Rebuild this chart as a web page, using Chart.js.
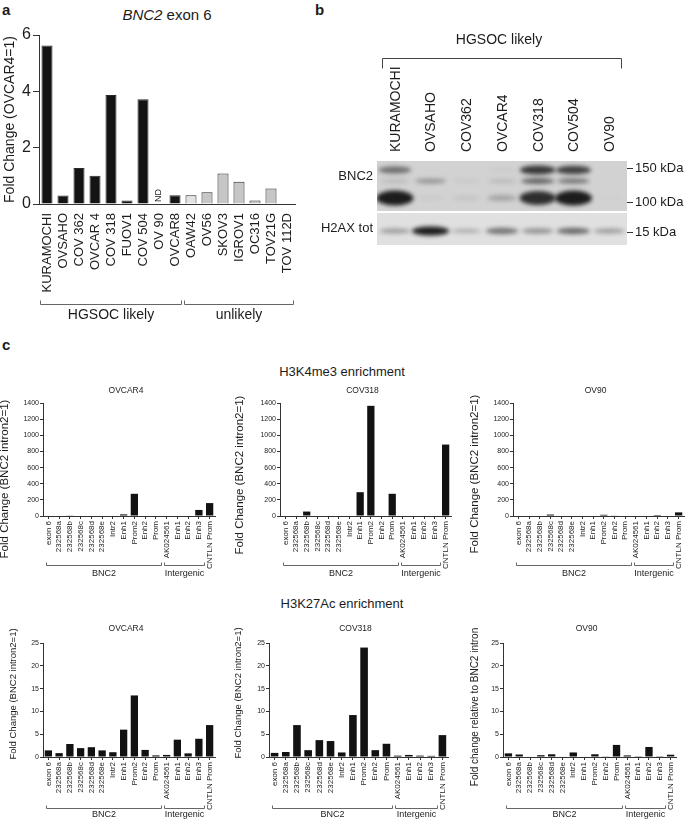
<!DOCTYPE html>
<html><head><meta charset="utf-8">
<script src="https://cdn.jsdelivr.net/npm/chart.js@4.4.1/dist/chart.umd.min.js"></script>
<style>
html,body{margin:0;padding:0;background:#fff}
body{width:685px;height:820px;position:relative;overflow:hidden;font-family:'Liberation Sans',Arial,Helvetica,sans-serif;color:#1c1c1c}
canvas{position:absolute}
.t{position:absolute;white-space:nowrap;line-height:1}
.ctr{transform:translateX(-50%)}
</style></head><body>
<div class="t" style="left:2px;top:2px;font-size:15px;font-weight:bold">a</div>
<div class="t" style="left:315px;top:2px;font-size:15px;font-weight:bold">b</div>
<div class="t" style="left:2px;top:337px;font-size:15px;font-weight:bold">c</div>
<div class="t ctr" style="left:167px;top:7px;font-size:15px"><i>BNC2</i> exon 6</div>
<div class="t ctr" style="left:342px;top:365px;font-size:13px">H3K4me3 enrichment</div>
<div class="t ctr" style="left:342px;top:597px;font-size:13px">H3K27Ac enrichment</div>
<script>
// ---------------- DATA ----------------
// Panel a: BNC2 exon 6 expression (fold change, OVCAR4 = 1)
const cellLines = ['KURAMOCHI','OVSAHO','COV 362','OVCAR 4','COV 318','FUOV1','COV 504','OV 90','OVCAR8',
                   'OAW42','OV56','SKOV3','IGROV1','OC316','TOV21G','TOV 112D'];
const foldChangeExon6 = [5.63,0.3,1.28,1.0,3.87,0.12,3.72,0,0.31,0.31,0.42,1.08,0.79,0.12,0.55,0];
const cellLineGroup = ['HGSOC likely','HGSOC likely','HGSOC likely','HGSOC likely','HGSOC likely',
                       'HGSOC likely','HGSOC likely','HGSOC likely','HGSOC likely',
                       'unlikely','unlikely','unlikely','unlikely','unlikely','unlikely','unlikely'];
const notDetected = ['OV 90'];
const exon6Ticks = [0,2,4,6];

// Panel b: western blot (band intensity 0..1 per lane)
const blotLanes = ['KURAMOCHI','OVSAHO','COV362','OVCAR4','COV318','COV504','OV90'];
const blotGroupLabel = 'HGSOC likely';
const blotProteins = ['BNC2','H2AX tot'];
const bnc2Band150 = [0.55,0,0,0.04,0.85,0.8,0];
const bnc2Band125 = [0.15,0.35,0.05,0.15,0.6,0.5,0];
const bnc2Band105 = [1.0,0.05,0.08,0.25,0.9,1.0,0.02];
const h2axBand    = [0.35,1.0,0.25,0.55,0.4,0.6,0.35];
const bandMigration = [9,20,37,70];
const markerLabels = ['150 kDa','100 kDa','15 kDa'];
const markerMigration = [7,41,71];

// Panel c: ChIP enrichment
const regions = ['exon 6','232568a','232568b','232568c','232568d','232568e','Intr2','Enh1','Prom2','Enh2','Prom',
                 'AK024561','Enh1','Enh2','Enh3','CNTLN Prom'];
const regionGroups = ['BNC2','Intergenic'];
const regionGroupFirst = [0,11];
const regionGroupLast = [10,14];
const h3k4me3Ticks = [0,200,400,600,800,1000,1200,1400];
const h3k27acTicks = [0,5,10,15,20,25];
const h3k4me3_OVCAR4 = [0,0,8,0,0,0,0,20,275,0,0,0,6,0,75,160];
const h3k4me3_COV318 = [0,0,55,0,0,0,0,295,1365,0,275,0,0,0,0,885];
const h3k4me3_OV90   = [6,0,0,18,0,0,0,0,15,5,0,0,0,12,0,45];
const h3k27ac_OVCAR4 = [1.45,0.85,2.85,1.95,2.15,1.45,1.05,6.0,13.5,1.55,0.35,0.45,3.8,0.8,4.0,7.0];
const h3k27ac_COV318 = [0.9,1.1,7.0,1.5,3.7,3.5,1.0,9.2,24.0,1.5,2.9,0.3,0.45,0.3,0.25,4.8];
const h3k27ac_OV90   = [0.8,0.55,0.1,0.4,0.6,0.1,1.0,0.1,0.6,0.15,2.65,0.35,0.05,2.2,0.05,0.5];

// ---------------- SETUP ----------------
const FONT = "'Liberation Sans', Arial, Helvetica, sans-serif";
const INK = '#1c1c1c', AXIS = '#333';
Chart.defaults.font.family = FONT;
Chart.defaults.color = INK;
Chart.defaults.animation = false;
Chart.defaults.responsive = false;
Chart.defaults.maintainAspectRatio = false;
Chart.defaults.devicePixelRatio = 1;
Chart.defaults.plugins.legend.display = false;
Chart.defaults.plugins.tooltip.enabled = false;

function makeCanvas(left, top, w, h) {
  const c = document.createElement('canvas');
  c.width = w; c.height = h;
  c.style.left = left + 'px'; c.style.top = top + 'px';
  c.style.width = w + 'px'; c.style.height = h + 'px';
  document.body.appendChild(c);
  return c;
}

function spansFrom(groups) {
  const names = [], first = [], last = [];
  groups.forEach((g, i) => {
    const k = names.indexOf(g);
    if (k < 0) { names.push(g); first.push(i); last.push(i); } else last[k] = i;
  });
  return {names, first, last};
}

// brackets under the category axis
function bracketPlugin(names, first, last, cfg) {
  return {
    id: 'brackets',
    afterDraw(chart) {
      const ctx = chart.ctx, xs = chart.scales.x, base = chart.chartArea.bottom;
      const w = xs.getPixelForValue(1) - xs.getPixelForValue(0);
      ctx.save();
      ctx.strokeStyle = cfg.color || '#555'; ctx.lineWidth = 1;
      ctx.fillStyle = INK; ctx.font = cfg.size + 'px ' + FONT;
      ctx.textAlign = 'center'; ctx.textBaseline = 'middle';
      names.forEach((n, i) => {
        const x0 = Math.round(xs.getPixelForValue(first[i]) - w / 2 + cfg.inL) + 0.5;
        const x1 = Math.round(xs.getPixelForValue(last[i]) + w / 2 - cfg.inR) + 0.5;
        const y = Math.round(base + cfg.line) + 0.5;
        ctx.beginPath();
        ctx.moveTo(x0, y - cfg.tick); ctx.lineTo(x0, y); ctx.lineTo(x1, y); ctx.lineTo(x1, y - cfg.tick);
        ctx.stroke();
        ctx.fillText(n, (x0 + x1) / 2, y + cfg.text);
      });
      ctx.restore();
    }
  };
}

// ---------------- PANEL a ----------------
(function () {
  const cv = makeCanvas(0, 22, 299, 305);
  const sp = spansFrom(cellLineGroup);
  const lighter = ['OAW42'];
  const fills = cellLines.map((c, i) => cellLineGroup[i] === 'HGSOC likely' ? '#141414' : (lighter.includes(c) ? '#e2e2e2' : '#c6c6c6'));
  const ndPlugin = {
    id: 'nd',
    afterDatasetsDraw(chart) {
      const ctx = chart.ctx, xs = chart.scales.x, ys = chart.scales.y;
      ctx.save();
      ctx.font = '9px ' + FONT; ctx.fillStyle = INK; ctx.textBaseline = 'middle'; ctx.textAlign = 'left';
      notDetected.forEach(n => {
        const i = cellLines.indexOf(n);
        ctx.save();
        ctx.translate(xs.getPixelForValue(i), ys.getPixelForValue(0) - 2);
        ctx.rotate(-Math.PI / 2);
        ctx.fillText('ND', 0, 0);
        ctx.restore();
      });
      ctx.restore();
    }
  };
  new Chart(cv, {
    type: 'bar',
    data: { labels: cellLines, datasets: [{ data: foldChangeExon6, backgroundColor: fills, borderColor: '#2a2a2a', borderWidth: 1, barPercentage: 0.69, categoryPercentage: 1 }] },
    options: {
      layout: { padding: { top: 13, right: 4, left: 0, bottom: 0 } },
      scales: {
        x: {
          grid: { display: false, drawTicks: false }, border: { display: true, color: AXIS, width: 1 },
          ticks: { font: { size: 13 }, padding: 9, minRotation: 90, maxRotation: 90, autoSkip: false, color: INK },
          afterFit(s) { s.height = 123; s.paddingLeft = 0; s.paddingRight = 0; }
        },
        y: {
          min: 0, max: 6,
          afterBuildTicks(s) { s.ticks = exon6Ticks.map(v => ({ value: v })); },
          ticks: { font: { size: 16 }, padding: 2, color: INK, callback: v => String(v) },
          grid: { drawOnChartArea: false, tickLength: 6, color: AXIS },
          border: { color: AXIS, width: 1 },
          title: { display: true, text: 'Fold Change (OVCAR4=1)', font: { size: 14 }, padding: { top: 2, bottom: 0 }, color: INK },
          afterFit(s) { s.width = 39; s.paddingTop = 0; s.paddingBottom = 0; }
        }
      }
    },
    plugins: [ndPlugin, bracketPlugin(sp.names, sp.first, sp.last, { size: 14, line: 100, tick: 4, text: 11, inL: 0.5, inR: 2.5, color: '#666' })]
  });
})();

// ---------------- PANEL b (blot) ----------------
(function () {
  const cv = makeCanvas(308, 25, 377, 225);
  const bandIntensity = [bnc2Band150, bnc2Band125, bnc2Band105, h2axBand];
  const bandThick = [3.5, 2.5, 6, 3];
  const blotPlugin = {
    id: 'blot',
    beforeDatasetsDraw(chart) {
      const { ctx, chartArea: ca, scales } = chart;
      const x = scales.x, yr = scales.yr;
      const yp = v => yr.getPixelForValue(v);
      const panels = [[0, 50, '#d2d2d2'], [52, 84, '#e0e0e0']];
      ctx.save();
      panels.forEach(p => { ctx.fillStyle = p[2]; ctx.fillRect(ca.left, yp(p[0]), ca.width, yp(p[1]) - yp(p[0])); });
      const laneW = x.getPixelForValue(1) - x.getPixelForValue(0);
      bandIntensity.forEach((arr, r) => {
        const p = r < 3 ? panels[0] : panels[1];
        const yc = yp(bandMigration[r]);
        ctx.save();
        ctx.beginPath(); ctx.rect(ca.left, yp(p[0]), ca.width, yp(p[1]) - yp(p[0])); ctx.clip();
        ctx.filter = 'blur(2px)';
        arr.forEach((v, i) => {
          if (v <= 0) return;
          const xc = x.getPixelForValue(i);
          ctx.fillStyle = 'rgba(18,18,18,' + Math.min(1, v * 0.95) + ')';
          ctx.beginPath();
          ctx.ellipse(xc, yc, laneW * (0.38 + 0.14 * v), 1.5 + bandThick[r] * v, 0, 0, Math.PI * 2);
          ctx.fill();
        });
        ctx.restore();
      });
      ctx.restore();
    },
    afterDraw(chart) {
      const { ctx, chartArea: ca, scales: { x } } = chart;
      ctx.save();
      // lane labels (rotated, reading upward, starting just above the blot)
      ctx.fillStyle = INK; ctx.font = '14px ' + FONT; ctx.textAlign = 'left'; ctx.textBaseline = 'middle';
      blotLanes.forEach((l, i) => {
        ctx.save();
        ctx.translate(x.getPixelForValue(i) + 1, ca.top - 9);
        ctx.rotate(-Math.PI / 2);
        ctx.fillText(l, 0, 0);
        ctx.restore();
      });
      // group bracket
      const x0 = Math.round(x.getPixelForValue(0) - 13) + 0.5;
      const x1 = Math.round(x.getPixelForValue(blotLanes.length - 1) + 12) + 0.5;
      const y = Math.round(ca.top - 103) + 0.5;
      ctx.strokeStyle = '#444'; ctx.lineWidth = 1;
      ctx.beginPath(); ctx.moveTo(x0, y + 10); ctx.lineTo(x0, y); ctx.lineTo(x1, y); ctx.lineTo(x1, y + 10); ctx.stroke();
      ctx.textAlign = 'center'; ctx.textBaseline = 'alphabetic';
      ctx.fillText(blotGroupLabel, (x0 + x1) / 2 - 3, ca.top - 117);
      ctx.restore();
    }
  };
  new Chart(cv, {
    type: 'bar',
    data: { labels: blotLanes, datasets: [] },
    options: {
      layout: { padding: { top: 0, bottom: 5, left: 0, right: 0 } },
      scales: {
        x: {
          type: 'category', position: 'top', offset: true,
          grid: { display: false, drawTicks: false }, border: { display: false },
          ticks: { display: false },
          afterFit(s) { s.height = 136; s.paddingLeft = 0; s.paddingRight = 0; }
        },
        y: {
          position: 'left', min: 0, max: 84, reverse: true,
          grid: { display: false, drawTicks: false }, border: { display: false },
          afterBuildTicks(s) { s.ticks = [{ value: 15 }, { value: 67 }]; },
          ticks: { font: { size: 13 }, padding: 4, color: INK, callback: (v, i) => blotProteins[i] },
          afterFit(s) { s.width = 69; s.paddingTop = 0; s.paddingBottom = 0; }
        },
        yr: {
          position: 'right', min: 0, max: 84, reverse: true,
          grid: { display: true, drawOnChartArea: false, tickLength: 6, color: AXIS },
          border: { display: false },
          afterBuildTicks(s) { s.ticks = markerMigration.map(v => ({ value: v })); },
          ticks: { font: { size: 13 }, padding: 2, color: INK, callback: (v, i) => markerLabels[i] },
          afterFit(s) { s.width = 58; s.paddingTop = 0; s.paddingBottom = 0; }
        }
      }
    },
    plugins: [blotPlugin]
  });
})();

// ---------------- PANEL c ----------------
const rowsC = [
  { top: 380, caTop: 403, caBottom: 516, bottom: 585, ticks: h3k4me3Ticks, max: 1400, titleUp: 10, brLine: 49, brText: 8 },
  { top: 620, caTop: 643, caBottom: 757, bottom: 820, ticks: h3k27acTicks, max: 25, titleUp: 12, brLine: 51, brText: 6 }
];
const chartsC = [
  { series: h3k4me3_OVCAR4, title: 'OVCAR4', row: 0, left: 0,   yW: 43, right: 215, tx: 5,   ty: 479, ytxt: 'Fold Change (BNC2 intron2=1)', ts: 11.5 },
  { series: h3k4me3_COV318, title: 'COV318', row: 0, left: 233, yW: 47, right: 451, tx: 240, ty: 475, ytxt: 'Fold Change (BNC2 intron2=1)', ts: 11.5 },
  { series: h3k4me3_OV90,   title: 'OV90',   row: 0, left: 468, yW: 45, right: 684, tx: 475, ty: 474, ytxt: 'Fold Change (BNC2 intron2=1)', ts: 11.5 },
  { series: h3k27ac_OVCAR4, title: 'OVCAR4', row: 1, left: 6,   yW: 37, right: 215, tx: 13,  ty: 694, ytxt: 'Fold Change (BNC2 intron2=1)', ts: 9.5 },
  { series: h3k27ac_COV318, title: 'COV318', row: 1, left: 231, yW: 38, right: 448, tx: 238, ty: 693, ytxt: 'Fold Change (BNC2 intron2=1)', ts: 9.5 },
  { series: h3k27ac_OV90,   title: 'OV90',   row: 1, left: 468, yW: 35, right: 676, tx: 475, ty: 707, ytxt: 'Fold change relative to BNC2 intron', ts: 10 }
];
chartsC.forEach(c => {
  const r = rowsC[c.row];
  const W = c.right - c.left + 2, H = r.bottom - r.top;
  const cv = makeCanvas(c.left, r.top, W, H);
  const deco = {
    id: 'deco',
    afterDraw(chart) {
      const ctx = chart.ctx, ca = chart.chartArea;
      ctx.save();
      ctx.fillStyle = INK;
      ctx.font = '8.5px ' + FONT; ctx.textAlign = 'center'; ctx.textBaseline = 'alphabetic';
      ctx.fillText(c.title, (ca.left + ca.right) / 2 - 3, ca.top - r.titleUp);
      ctx.translate(c.tx - c.left, c.ty - r.top);
      ctx.rotate(-Math.PI / 2);
      ctx.font = c.ts + 'px ' + FONT; ctx.textBaseline = 'middle';
      ctx.fillText(c.ytxt, 0, 0);
      ctx.restore();
    }
  };
  new Chart(cv, {
    type: 'bar',
    data: { labels: regions, datasets: [{ data: c.series, backgroundColor: '#121212', borderColor: '#121212', borderWidth: 0, barPercentage: 0.68, categoryPercentage: 1 }] },
    options: {
      layout: { padding: { top: r.caTop - r.top, right: 2, left: 0, bottom: 0 } },
      scales: {
        x: {
          grid: { display: true, drawOnChartArea: false, offset: false, tickLength: 3, color: AXIS },
          border: { display: true, color: AXIS, width: 1 },
          ticks: { font: { size: 8 }, padding: 2, minRotation: 90, maxRotation: 90, autoSkip: false, color: INK },
          afterFit(s) { s.height = r.bottom - r.caBottom; s.paddingLeft = 0; s.paddingRight = 0; }
        },
        y: {
          min: 0, max: r.max,
          afterBuildTicks(s) { s.ticks = r.ticks.map(v => ({ value: v })); },
          ticks: { font: { size: 7 }, padding: 1, color: INK, callback: v => String(v) },
          grid: { drawOnChartArea: false, tickLength: 3, color: AXIS },
          border: { color: AXIS, width: 1 },
          afterFit(s) { s.width = c.yW; s.paddingTop = 0; s.paddingBottom = 0; }
        }
      }
    },
    plugins: [deco, bracketPlugin(regionGroups, regionGroupFirst, regionGroupLast, { size: 9, line: r.brLine, tick: 3, text: r.brText, inL: 3, inR: 0, color: '#666' })]
  });
});
</script></body></html>
